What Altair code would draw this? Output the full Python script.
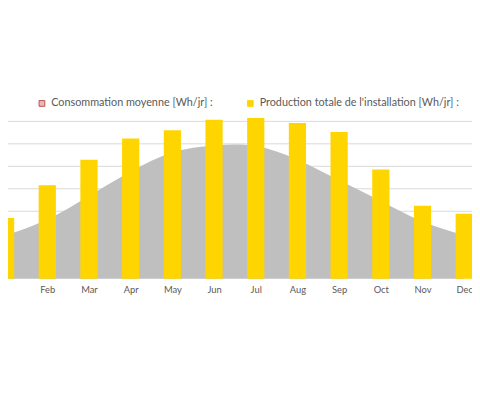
import json
import altair as alt
import pandas as pd

months = ["Jan", "Feb", "Mar", "Apr", "May", "Jun", "Jul", "Aug", "Sep", "Oct", "Nov", "Dec"]
consommation = [1930, 2630, 3680, 4770, 5620, 5930, 5900, 5290, 4380, 3460, 2540, 1930]
production = [2700, 4160, 5290, 6240, 6610, 7070, 7150, 6930, 6530, 4860, 3250, 2890]
series = ["Consommation moyenne [Wh/jr] :", "Production totale de l'installation [Wh/jr] :"]
grid_values = [1000, 2000, 3000, 4000, 5000, 6000, 7000]

df = pd.DataFrame({"idx": list(range(len(months))), "month": months,
                   "conso": consommation, "prod": production})
grid_df = pd.DataFrame({"g": grid_values})
leg_df = pd.DataFrame({"s": series})

FONT = "Lato"
TXT = "#595959"

xscale = alt.Scale(domain=[0.176, 11.069], nice=False, zero=False)
yscale = alt.Scale(domain=[0, 11900], nice=False, zero=True)

xaxis = alt.Axis(values=list(range(12)), labelExpr=json.dumps(months) + "[datum.value]",
                 title=None, grid=False, ticks=False, domain=False,
                 labelColor=TXT, labelFont=FONT, labelFontSize=9.5, labelPadding=6,
                 labelFlush=False, labelOverlap=False, labelBound=False)

grid = alt.Chart(grid_df).mark_rule(color="#D9D9D9", strokeWidth=1).encode(
    y=alt.Y("g:Q", scale=yscale, axis=None),
)
area = alt.Chart(df).mark_area(interpolate="natural", color="#BFBFBF").encode(
    x=alt.X("idx:Q", scale=xscale, axis=xaxis),
    y=alt.Y("conso:Q", scale=yscale, axis=None),
)
bars = alt.Chart(df).mark_bar(width=17.5, color="#FFD500").encode(
    x=alt.X("idx:Q", scale=xscale),
    y=alt.Y("prod:Q", scale=yscale),
)

legend = alt.Legend(orient="none", legendX=29, legendY=88, direction="horizontal", title=None,
                    symbolType="square", symbolSize=34, symbolStrokeWidth=1, symbolOpacity=1,
                    labelFont=FONT, labelFontSize=11, labelColor=TXT, columnPadding=32,
                    labelOffset=4, labelLimit=400, padding=0)
leg_layer = alt.Chart(leg_df).mark_square(opacity=0).encode(
    fill=alt.Fill("s:N", scale=alt.Scale(domain=series, range=["#E6B9B8", "#FFD500"]), legend=legend),
    stroke=alt.Stroke("s:N", scale=alt.Scale(domain=series, range=["#C0504D", "#FFD500"]), legend=legend),
)

chart = alt.layer(grid, area, bars, leg_layer).properties(
    width=472, height=272,
    padding={"left": 0, "top": 0, "right": 0, "bottom": 115},
    autosize=alt.AutoSizeParams(type="none"),
    background="white",
).configure_view(stroke=None)

chart.save("out.html", embed_options={"renderer": "svg", "actions": False})
